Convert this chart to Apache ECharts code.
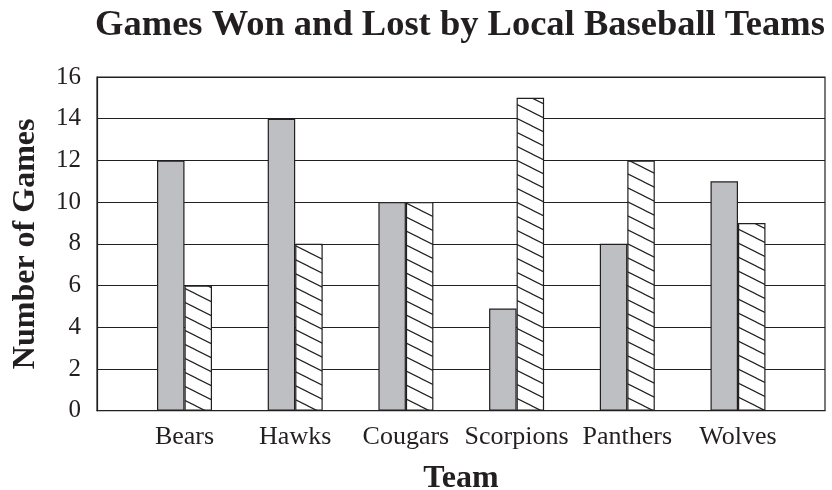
<!DOCTYPE html>
<html>
<head>
<meta charset="utf-8">
<script src="https://cdn.jsdelivr.net/npm/echarts@6/dist/echarts.min.js"></script>
<style>html,body{margin:0;padding:0;background:#fff}#c{width:832px;height:490px}</style>
</head>
<body>
<div id="c"></div>
<script>
var teams = ['Bears', 'Hawks', 'Cougars', 'Scorpions', 'Panthers', 'Wolves'];
var won = [12, 14, 10, 4.9, 8, 11];
var lost = [6, 8, 10, 15, 12, 9];
var yTicks = [0, 2, 4, 6, 8, 10, 12, 14, 16];

function hatch() {
  var c = document.createElement('canvas');
  c.width = 28; c.height = 14;
  var g = c.getContext('2d');
  g.fillStyle = '#fff'; g.fillRect(0, 0, 28, 14);
  g.strokeStyle = '#222'; g.lineWidth = 1.2;
  for (var k = -2; k <= 2; k++) {
    g.beginPath();
    g.moveTo(-28, -14 + k * 14);
    g.lineTo(56, 28 + k * 14);
    g.stroke();
  }
  return c;
}

var ink = '#231f20';
var chart = echarts.init(document.getElementById('c'));
chart.setOption({
  animation: false,
  graphic: [{
    type: 'text', x: 460, y: 26,
    style: {
      text: 'Games Won and Lost by Local Baseball Teams',
      align: 'center', verticalAlign: 'middle',
      font: 'bold 36.5px "Liberation Serif"', fill: ink
    }
  }],
  grid: [
    { left: 97, right: 7, top: 77, bottom: 79.3, show: true, borderColor: ink, borderWidth: 1.2,
      backgroundColor: 'transparent', outerBoundsMode: 'none', containLabel: false },
    { left: 129.15, right: 38.65, top: 77, bottom: 79.3, outerBoundsMode: 'none', containLabel: false }
  ],
  xAxis: [
    { gridIndex: 0, type: 'value', min: 0, max: 1, axisLabel: { show: false }, axisTick: { show: false }, splitLine: { show: false },
      axisLine: { show: true, lineStyle: { color: ink, width: 1.2 } },
      name: 'Team', nameLocation: 'middle', nameGap: 52,
      nameTextStyle: { fontFamily: 'Liberation Serif', fontWeight: 'bold', fontSize: 32, color: ink } },
    { gridIndex: 1, type: 'category', data: teams, axisLine: { show: false }, axisTick: { show: false },
      axisLabel: { fontFamily: 'Liberation Serif', fontSize: 26, color: ink, margin: 13, interval: 0 } }
  ],
  yAxis: [
    { gridIndex: 0, type: 'value', min: 0, max: 16, interval: 2,
      axisLine: { show: true, lineStyle: { color: ink, width: 1.2 } }, axisTick: { show: false },
      axisLabel: { fontFamily: 'Liberation Serif', fontSize: 25, color: ink, margin: 16,
        formatter: function (v) { return yTicks.indexOf(v) >= 0 ? String(v) : ''; } },
      splitLine: { show: true, lineStyle: { color: ink, width: 1.2 } },
      name: 'Number of Games', nameLocation: 'middle', nameGap: 55, nameRotate: 90,
      nameTextStyle: { fontFamily: 'Liberation Serif', fontWeight: 'bold', fontSize: 32, color: ink } },
    { gridIndex: 1, type: 'value', min: 0, max: 16, show: false }
  ],
  series: [
    { type: 'bar', name: 'Won', xAxisIndex: 1, yAxisIndex: 1, data: won, barWidth: 27.5, barGap: '0%',
      itemStyle: { color: '#bebfc2', borderColor: ink, borderWidth: 1.2 } },
    { type: 'bar', name: 'Lost', xAxisIndex: 1, yAxisIndex: 1, data: lost, barWidth: 27.5, barGap: '0%',
      itemStyle: { color: { image: hatch(), repeat: 'repeat' }, borderColor: ink, borderWidth: 1.2 } }
  ]
});
</script>
</body>
</html>
